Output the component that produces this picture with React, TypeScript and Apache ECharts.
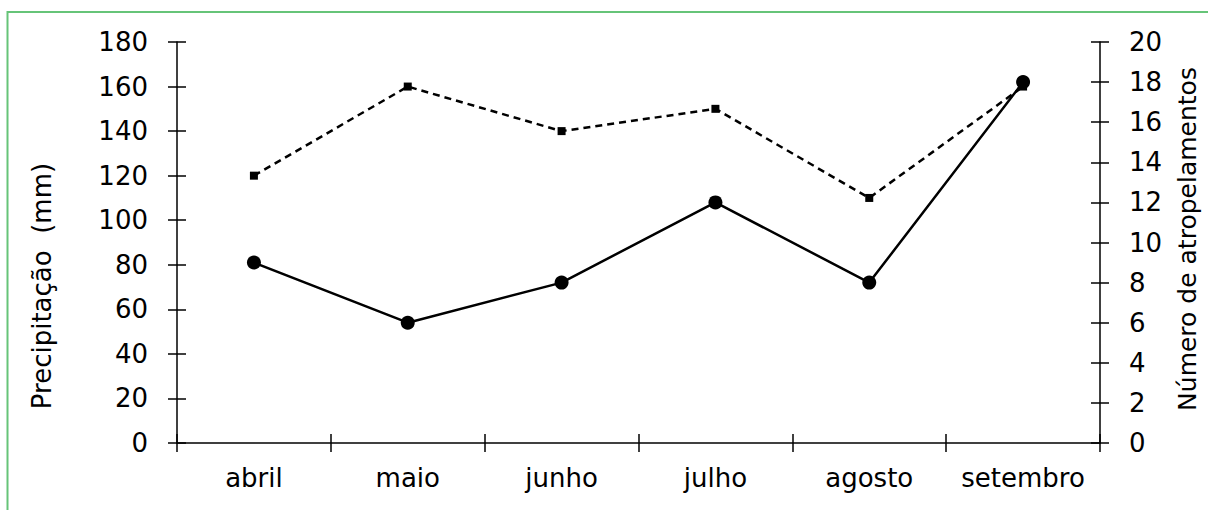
import React, { useEffect, useRef } from "react";
import * as echarts from "echarts";

const months = ["abril", "maio", "junho", "julho", "agosto", "setembro"];
const precipitacao = [120, 160, 140, 150, 110, 160];
const atropelamentos = [9, 6, 8, 12, 8, 18];
const leftTitle = "Precipitação  (mm)";
const rightTitle = "Número de atropelamentos";

const FONT = "DejaVu Sans";

export default function App() {
  const ref = useRef<HTMLDivElement>(null);
  useEffect(() => {
    if (!ref.current) return;
    const chart = echarts.init(ref.current, null, { renderer: "svg" });
    const tickStyle = { color: "#000", width: 1.5 };
    // main axis: line + labels, no ticks; tick axis: hidden line, crossing ticks (offset inward)
    const baseY = (position: "left" | "right", max: number, interval: number, tickAxis: boolean) => ({
      type: "value",
      position,
      min: 0,
      max,
      interval,
      offset: tickAxis ? -9 : 0,
      axisLine: { show: !tickAxis, lineStyle: { color: "#000", width: 1.5 } },
      axisTick: { show: tickAxis, length: 18, lineStyle: tickStyle },
      axisLabel: {
        show: !tickAxis,
        margin: 29,
        color: "#000",
        fontFamily: FONT,
        fontSize: 26,
      },
      splitLine: { show: false },
    });
    const baseX = (tickAxis: boolean) => ({
      type: "category",
      data: months,
      position: "bottom",
      boundaryGap: true,
      offset: tickAxis ? -9 : 0,
      axisLine: { show: !tickAxis, onZero: false, lineStyle: { color: "#000", width: 1.5 } },
      axisTick: { show: tickAxis, length: 18, interval: 0, alignWithLabel: false, lineStyle: tickStyle },
      axisLabel: {
        show: !tickAxis,
        interval: 0,
        margin: 22,
        color: "#000",
        fontFamily: FONT,
        fontSize: 26,
      },
      splitLine: { show: false },
    });
    chart.setOption({
      animation: false,
      backgroundColor: "#fff",
      grid: { left: 177, right: 108, top: 42, bottom: 67, containLabel: false },
      xAxis: [baseX(false), baseX(true)],
      yAxis: [
        baseY("left", 180, 20, false),
        baseY("left", 180, 20, true),
        baseY("right", 20, 2, false),
        baseY("right", 20, 2, true),
      ],
      graphic: [
        {
          type: "rect",
          shape: { x: 7.5, y: 12, width: 1215, height: 520 },
          style: { fill: "none", stroke: "#66c478", lineWidth: 2 },
          silent: true,
        },
        {
          type: "text",
          x: 42,
          y: 286,
          rotation: Math.PI / 2,
          style: {
            text: leftTitle,
            fill: "#000",
            font: `26px '${FONT}'`,
            align: "center",
            verticalAlign: "middle",
          },
        },
        {
          type: "text",
          x: 1187,
          y: 239,
          rotation: Math.PI / 2,
          style: {
            text: rightTitle,
            fill: "#000",
            font: `25px '${FONT}'`,
            align: "center",
            verticalAlign: "middle",
          },
        },
      ],
      series: [
        {
          name: "Precipitação",
          type: "line",
          data: precipitacao,
          xAxisIndex: 0,
          yAxisIndex: 0,
          symbol: "rect",
          symbolSize: 8,
          lineStyle: { color: "#000", width: 2.5, type: [7, 5] },
          itemStyle: { color: "#000" },
          z: 3,
        },
        {
          name: "Atropelamentos",
          type: "line",
          data: atropelamentos,
          xAxisIndex: 0,
          yAxisIndex: 2,
          symbol: "circle",
          symbolSize: 14,
          lineStyle: { color: "#000", width: 2.5 },
          itemStyle: { color: "#000" },
          z: 4,
        },
      ],
    });
    return () => chart.dispose();
  }, []);
  return (
    <div
      ref={ref}
      style={{ position: "fixed", left: 0, top: 0, width: 1208, height: 510 }}
    />
  );
}
